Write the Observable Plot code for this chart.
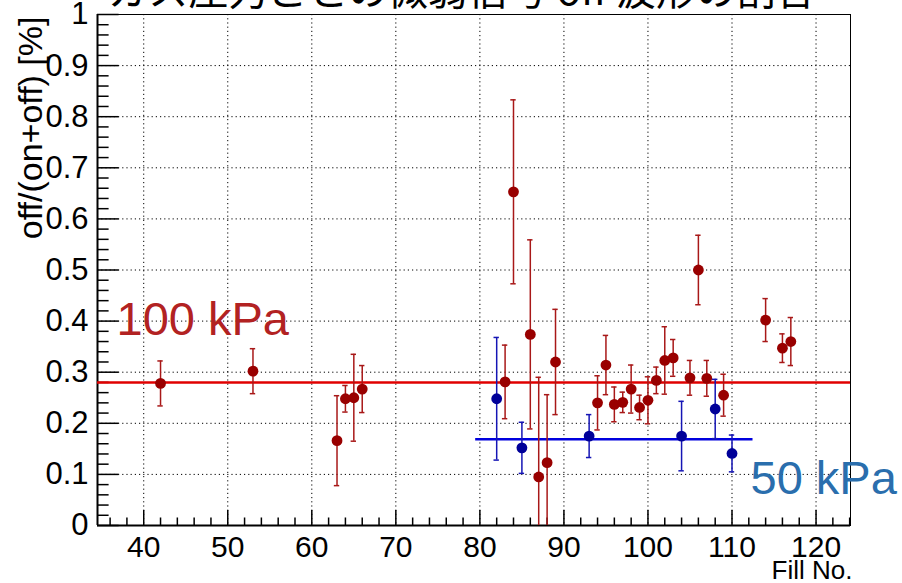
<!DOCTYPE html>
<html><head><meta charset="utf-8">
<script src="https://cdn.jsdelivr.net/npm/d3@7"></script>
<script src="https://cdn.jsdelivr.net/npm/@observablehq/plot@0.6"></script>
<style>html,body{margin:0;padding:0;background:#fff;overflow:hidden;}</style>
</head><body><div id="chart"></div>
<script>
const title = "ガス圧力ごとの微弱信号 off 波形の割合";
const yLabel = "off/(on+off) [%]";
const xLabel = "Fill No.";
const label100 = "100 kPa";
const label50 = "50 kPa";

// 100 kPa (red)
const redFill = [42, 53, 63, 64, 65, 66, 83, 84, 86, 87, 88, 89, 94, 95, 96, 97, 98, 99, 100, 101, 102, 103, 105, 106, 107, 109, 114, 116, 117];
const redVal  = [0.278, 0.302, 0.166, 0.248, 0.250, 0.267, 0.281, 0.653, 0.374, 0.095, 0.123, 0.320, 0.240, 0.314, 0.237, 0.241, 0.267, 0.231, 0.245, 0.284, 0.323, 0.328, 0.289, 0.500, 0.288, 0.255, 0.402, 0.347, 0.360];
const redErr  = [0.044, 0.044, 0.088, 0.026, 0.085, 0.046, 0.072, 0.180, 0.185, 0.195, 0.133, 0.103, 0.053, 0.058, 0.034, 0.020, 0.047, 0.024, 0.046, 0.026, 0.066, 0.036, 0.034, 0.068, 0.035, 0.041, 0.042, 0.028, 0.047];
const redMean = 0.28;

// 50 kPa (blue)
const blueFill = [82, 85, 93, 104, 108, 110];
const blueVal  = [0.248, 0.152, 0.175, 0.175, 0.228, 0.141];
const blueErr  = [0.120, 0.050, 0.042, 0.068, 0.058, 0.036];
const blueMean = 0.169;
const blueRange = [79.5, 112.5];

const xDomain = [34.5, 124.1];
const xTicks = [40, 50, 60, 70, 80, 90, 100, 110, 120];
const yTicks = [0, 0.1, 0.2, 0.3, 0.4, 0.5, 0.6, 0.7, 0.8, 0.9, 1];
const xMinor = d3.range(36, 124.2, 2).filter(v => v % 10 !== 0);
const yMinor = d3.range(0, 1.0001, 0.02).filter(v => Math.abs(v*10 - Math.round(v*10)) > 1e-6);

const red = redFill.map((x, i) => ({x, y: redVal[i], e: redErr[i]}));
const blue = blueFill.map((x, i) => ({x, y: blueVal[i], e: blueErr[i]}));

const font = "'Liberation Sans', Arial, Helvetica, sans-serif";
const capW = 0.32;
const grid = {stroke: "#000", strokeWidth: 1, strokeDasharray: "1.2,3"};
const fmt = d3.format("~g");

function errMarks(data, lineColor, dotColor) {
  return [
    Plot.ruleX(data, {x: "x", y1: d => d.y - d.e, y2: d => d.y + d.e, stroke: lineColor, strokeWidth: 1.5, clip: true}),
    Plot.ruleY(data, {y: d => d.y + d.e, x1: d => d.x - capW, x2: d => d.x + capW, stroke: lineColor, strokeWidth: 1.5, clip: true}),
    Plot.ruleY(data, {y: d => d.y - d.e, x1: d => d.x - capW, x2: d => d.x + capW, stroke: lineColor, strokeWidth: 1.5, clip: true}),
    Plot.dot(data, {x: "x", y: "y", r: 5.4, fill: dotColor, stroke: "none"})
  ];
}

const chart = Plot.plot({
  width: 902, height: 583,
  marginLeft: 97, marginRight: 52, marginTop: 14, marginBottom: 58,
  style: {fontFamily: font, background: "#fff", overflow: "visible"},
  x: {domain: xDomain},
  y: {domain: [0, 1]},
  marks: [
    Plot.ruleX(xTicks, {x: d => d, ...grid}),
    Plot.ruleY(yTicks.filter(d => d > 0 && d < 1), {y: d => d, ...grid}),
    Plot.frame({stroke: "#000", strokeWidth: 1}),
    // y ticks (inside)
    Plot.ruleY(yTicks, {y: d => d, x1: xDomain[0], x2: xDomain[0] + 2.57, stroke: "#000", strokeWidth: 1.5}),
    Plot.ruleY(yMinor, {y: d => d, x1: xDomain[0], x2: xDomain[0] + 1.38, stroke: "#000", strokeWidth: 1.5}),
    // x ticks (inside)
    Plot.ruleX(xTicks, {x: d => d, y1: 0, y2: 0.0294, stroke: "#000", strokeWidth: 1.5}),
    Plot.ruleX(xMinor, {x: d => d, y1: 0, y2: 0.0147, stroke: "#000", strokeWidth: 1.5}),
    Plot.ruleX([xDomain[0]], {x: d => d, stroke: "#000", strokeWidth: 2}),
    Plot.ruleY([0], {y: d => d, stroke: "#000", strokeWidth: 2}),
    Plot.axisY(yTicks, {tickSize: 0, tickPadding: 9, fontSize: 31, label: null, fill: "#000", tickFormat: fmt}),
    Plot.axisX(xTicks, {tickSize: 0, tickPadding: 10, fontSize: 30, label: null, fill: "#000", tickFormat: fmt}),
    // fit lines
    Plot.ruleY([redMean], {y: d => d, stroke: "#e00000", strokeWidth: 2.5}),
    Plot.ruleY([blueMean], {y: d => d, x1: blueRange[0], x2: blueRange[1], stroke: "#0000dd", strokeWidth: 2.5}),
    ...errMarks(red, "#a81818", "#990000"),
    ...errMarks(blue, "#1515b5", "#000099"),
    // texts
    Plot.text([label100], {frameAnchor: "top-left", dx: 19, dy: 287, textAnchor: "start", fontSize: 47, fill: "#b22222", fontFamily: font}),
    Plot.text([label50], {frameAnchor: "top-left", dx: 653, dy: 446, textAnchor: "start", fontSize: 47, fill: "#2a6ead", fontFamily: font}),
    Plot.text([yLabel], {frameAnchor: "top-left", dx: -80, dy: 2, rotate: -90, textAnchor: "end", fontSize: 34, fill: "#000", fontFamily: font}),
    Plot.text([xLabel], {frameAnchor: "bottom-right", dx: 2, dy: 53, textAnchor: "end", fontSize: 26, fill: "#000", fontFamily: font}),
    Plot.text([title], {frameAnchor: "top", dx: -12, dy: -38, textAnchor: "middle", fontSize: 40, fill: "#000", fontFamily: "'Noto Sans CJK JP', sans-serif"})
  ]
});
document.getElementById("chart").appendChild(chart);
</script>
</body></html>
